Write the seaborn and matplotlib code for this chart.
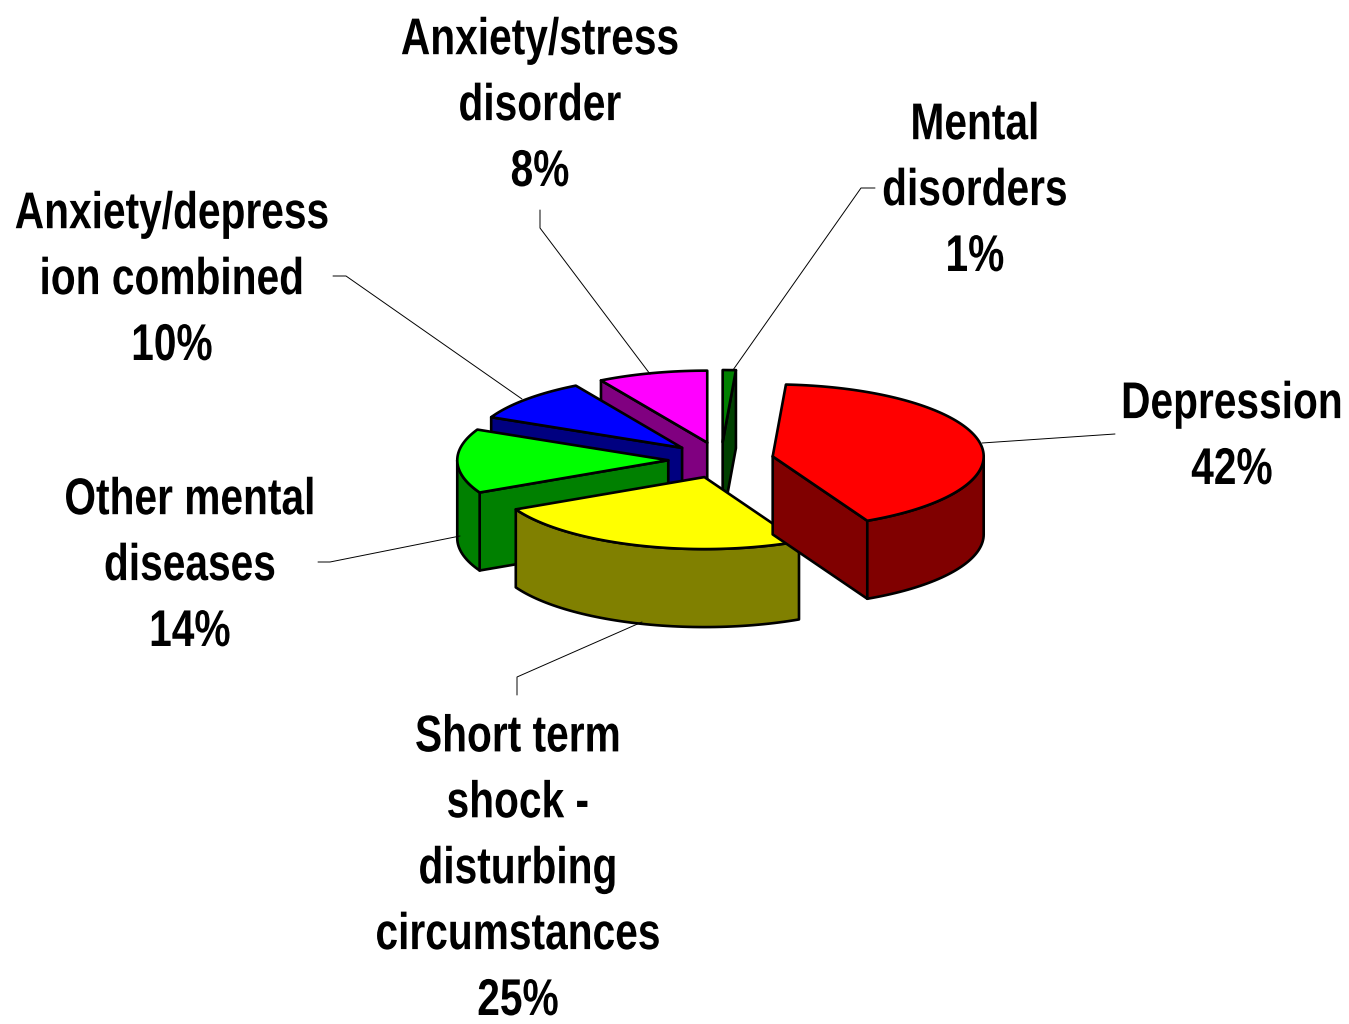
import numpy as np
import pandas as pd
import seaborn as sns
import matplotlib.pyplot as plt
from matplotlib.patches import Polygon
from matplotlib.patheffects import AbstractPathEffect
from matplotlib.transforms import Affine2D

categories = ["Mental\ndisorders", "Depression", "Short term\nshock -\ndisturbing\ncircumstances",
              "Other mental\ndiseases", "Anxiety/depress\nion combined", "Anxiety/stress\ndisorder"]
values = [1, 41.6, 25, 14.4, 9.6, 8.4]  # labels show them rounded
top_colors = ["#008000", "#FF0000", "#FFFF00", "#00FF00", "#0000FF", "#FF00FF"]
side_colors = ["#004000", "#800000", "#808000", "#008000", "#000080", "#800080"]

# label centre x and baseline of the last line, in pixels
label_xy = [(975, 271), (1232, 484), (518, 1015), (190, 646), (172, 360), (540, 186)]
leaders = [
    [(875, 188), (861, 188), (733, 370)],
    [(1115, 434), (982, 443)],
    [(517, 695), (517, 677), (642, 622)],
    [(318, 562), (330, 562), (460, 536)],
    [(333, 276), (346, 276), (522, 399)],
    [(540, 210), (540, 228), (650, 374)],
]

W, H = 1349, 1024
CX, CY = 721, 460      # pie centre
RX, RY = 211, 72       # ellipse radii of the tilted disc
DEPTH = 78             # thickness
EXPLODE = 0.25         # pull out, share of the radius

sns.set_theme(style="white")
plt.rcParams["font.family"] = ["Liberation Sans", "DejaVu Sans"]


class Tall(AbstractPathEffect):
    # the reference uses a narrow bold face, so stretch the glyphs upward from the baseline
    def __init__(self, factor):
        super().__init__()
        self.factor = factor

    def draw_path(self, renderer, gc, tpath, affine, rgbFace=None):
        renderer.draw_path(gc, tpath, Affine2D().scale(1, self.factor) + affine, rgbFace)


df = pd.DataFrame({"name": categories, "value": values, "top": top_colors, "side": side_colors})
df["end"] = df["value"].cumsum() / df["value"].sum() * 2 * np.pi
df["start"] = df["end"].shift(fill_value=0)
df["mid"] = (df["start"] + df["end"]) / 2
df["ax"] = CX + EXPLODE * RX * np.sin(df["mid"])
df["ay"] = CY - EXPLODE * RY * np.cos(df["mid"])


def rim(row, t0, t1):
    t = np.linspace(t0, t1, max(int((t1 - t0) * 40), 2))
    return np.column_stack([row["ax"] + RX * np.sin(t), row["ay"] - RY * np.cos(t)])


def wall(pts):
    return np.vstack([pts, (pts + [0, DEPTH])[::-1]])


def draw(pts, color, z):
    ax.add_patch(Polygon(pts, closed=True, facecolor=color, edgecolor="black", lw=1.9, joinstyle="round", zorder=z))


fig = plt.figure(figsize=(W / 100, H / 100), dpi=100)
ax = fig.add_axes([0, 0, 1, 1])
ax.set_xlim(0, W)
ax.set_ylim(H, 0)
ax.axis("off")

# back slices first, the two big front ones last
order = [5, 4, 3, 0, 2, 1]
z = 2
for i in order:
    row = df.iloc[i]
    apex = np.array([row["ax"], row["ay"]])
    arc = rim(row, row["start"], row["end"])
    # only the cut faces turned to the viewer
    if np.sin(row["start"]) < 0:
        draw(wall(np.array([apex, arc[0]])), row["side"], z)
    if np.sin(row["end"]) > 0:
        draw(wall(np.array([apex, arc[-1]])), row["side"], z)
    # outer wall, same thing
    lo, hi = max(row["start"], np.pi / 2), min(row["end"], 3 * np.pi / 2)
    if hi > lo:
        draw(wall(rim(row, lo, hi)), row["side"], z + 0.2)
    draw(np.vstack([apex, arc]), row["top"], z + 0.3)
    z += 1

for (x, y), row in zip(label_xy, df.itertuples()):
    t = ax.text(x, y, f"{row.name}\n{row.value:.0f}%", ha="center", va="baseline", fontsize=29.3,
                fontweight="bold", color="black", linespacing=1.93, zorder=20)
    t.set_path_effects([Tall(1.27)])

for pts in leaders:
    xs, ys = zip(*pts)
    ax.plot(xs, ys, color="black", lw=0.7, zorder=15)

fig.savefig("out.png", dpi=100, facecolor="white")
